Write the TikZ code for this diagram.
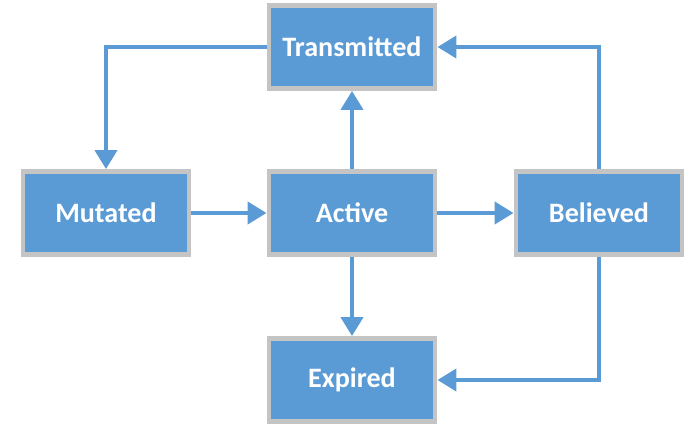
\documentclass[tikz,border=0pt]{standalone}
\usepackage{fontspec}
\setmainfont{Carlito}
\usetikzlibrary{arrows.meta}
\definecolor{boxblue}{HTML}{5B9BD5}
\definecolor{boxgray}{HTML}{C4C4C4}
\begin{document}
\begin{tikzpicture}[x=0.02cm,y=-0.02cm,
  statebox/.style={draw=boxgray,fill=boxblue,line width=2.8pt,minimum width=3.32cm,minimum height=1.66cm,text=white,font=\fontsize{16}{18}\selectfont\bfseries},
  flow/.style={draw=boxblue,line width=2.4pt,-{Triangle[length=0.38cm,width=0.44cm]}}]
\useasboundingbox (0,0) rectangle (687,427);

\node[statebox] (trans) at (352,47) {Transmitted};
\node[statebox] (mut) at (106,213) {Mutated};
\node[statebox] (act) at (352,213) {Active};
\node[statebox] (bel) at (599,213) {Believed};
\node[statebox] (exp) at (352,380) {Expired};

\draw[flow] (mut) -- (act);
\draw[flow] (act) -- (bel);
\draw[flow] (act) -- (trans);
\draw[flow] (act) -- (exp);
\draw[flow] (bel.north) |- (trans.east);
\draw[flow] (bel.south) |- (exp.east);
\draw[flow] (trans.west) -| (mut.north);
\end{tikzpicture}
\end{document}
